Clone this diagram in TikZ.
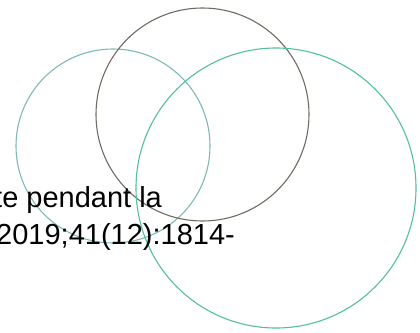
\documentclass[tikz,border=0pt]{standalone}
\usepackage{fontspec}
\setmainfont{Liberation Sans}
\usepackage{xcolor}
\usepackage{tikz}
\definecolor{ringgray}{RGB}{112,106,98}
\definecolor{ringteal}{RGB}{126,184,182}
\definecolor{ringgreen}{RGB}{84,190,160}
\tikzset{ring/.style={line width=1.1pt}}

\begin{document}
\begin{tikzpicture}[x=1pt, y=-1pt, font=\fontsize{29}{35}\selectfont]
  \useasboundingbox (0,0) rectangle (420,332);
  \clip (0,0) rectangle (420,332);
  \draw[ring, draw=ringteal] (113,146) circle (97);
  \draw[ring, draw=ringgray] (202.5,114.5) circle (106.5);
  \draw[ring, draw=ringgreen] (276,188) circle (140);
  \node[anchor=base west, inner sep=0pt] (lineone) at (-6,207) {te pendant la};
  \node[anchor=base west, inner sep=0pt] (linetwo) at (-4,244) {2019;41(12):1814-};
\end{tikzpicture}
\end{document}
